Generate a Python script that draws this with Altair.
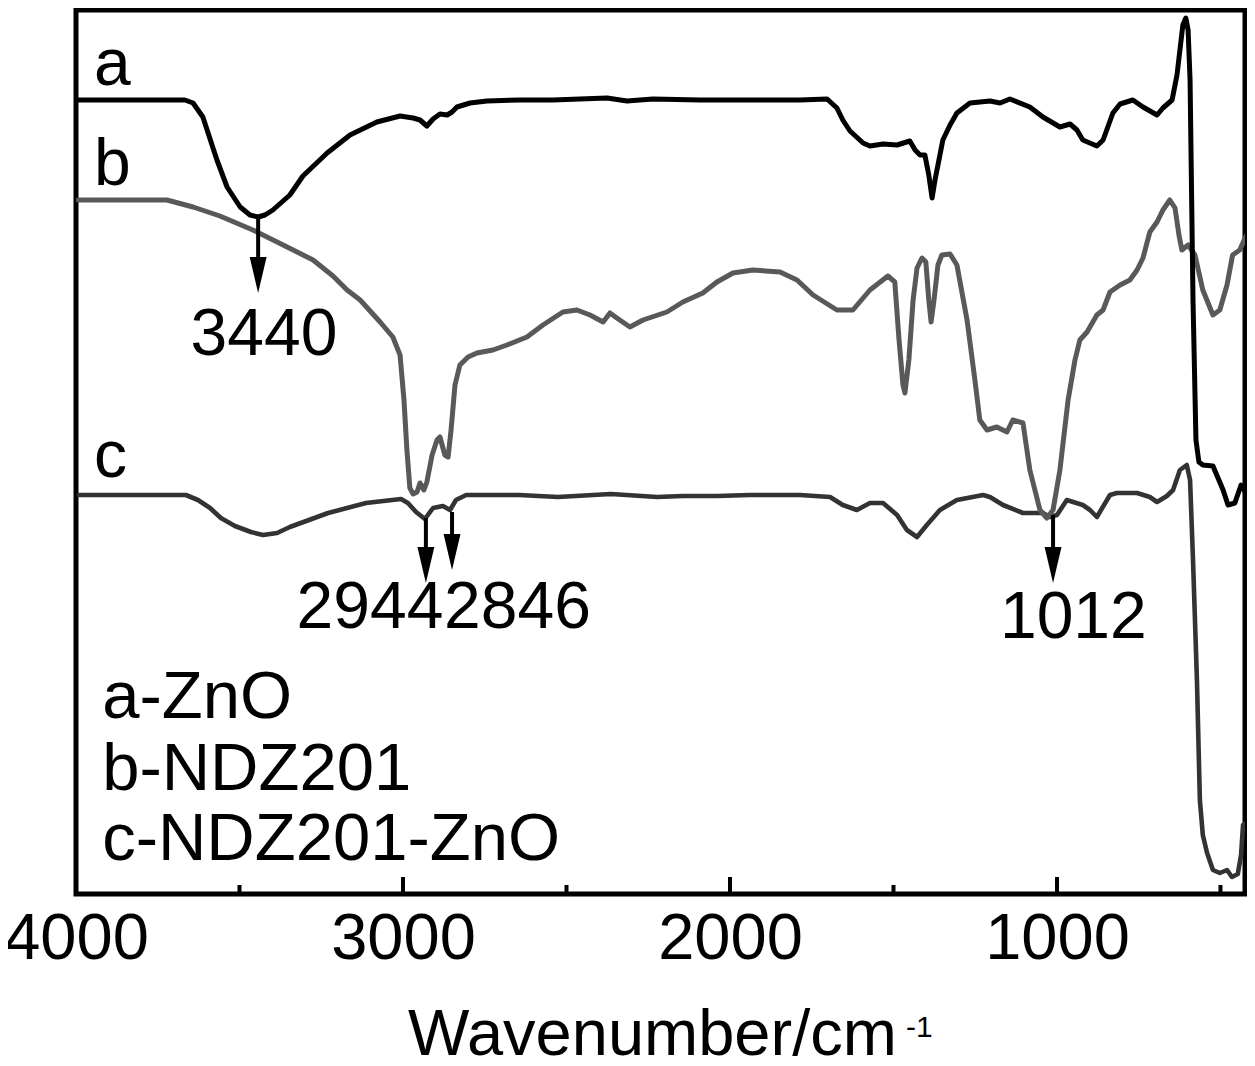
import altair as alt
import pandas as pd

FONT = "Liberation Sans, Arial, Helvetica, sans-serif"

# ---- FTIR spectra (wavenumber in cm-1, transmittance in arbitrary units) ----
wn_a = [3994, 3667, 3642, 3612, 3569, 3538, 3498, 3468, 3443, 3422, 3398, 3346, 3306, 3232, 3162,
        3080, 3009, 2969, 2948, 2927, 2908, 2887, 2865, 2850, 2835, 2795, 2743, 2642, 2541, 2459,
        2376, 2315, 2236, 2092, 1930, 1786, 1703, 1673, 1655, 1633, 1593, 1572, 1532, 1489, 1450,
        1434, 1419, 1404, 1392, 1382, 1373, 1361, 1349, 1327, 1306, 1266, 1205, 1174, 1144, 1083,
        1043, 991, 960, 939, 921, 878, 859, 829, 807, 768, 737, 694, 676, 648, 633,
        615, 606, 599, 593, 584, 575, 566, 554, 523, 492, 477, 456, 437, 428, 416]
t_a = [794, 794, 791, 777, 734, 707, 687, 679, 677, 679, 684, 699, 718, 741, 759,
       772, 778, 776, 774, 768, 775, 780, 779, 782, 787, 791, 793, 794, 794, 795,
       796, 793, 795, 794, 794, 794, 795, 786, 774, 763, 751, 748, 750, 749, 753,
       744, 739, 739, 719, 696, 714, 734, 754, 769, 781, 791, 793, 791, 795, 787,
       777, 767, 770, 764, 754, 748, 754, 781, 790, 794, 787, 779, 786, 794, 819,
       869, 876, 864, 814, 594, 454, 432, 429, 428, 404, 389, 391, 409, 404, 397]

wn_b = [3994, 3722, 3642, 3560, 3459, 3336, 3275, 3214, 3171, 3131, 3070, 3031, 3009, 2997, 2988,
        2979, 2969, 2957, 2948, 2936, 2927, 2911, 2896, 2887, 2872, 2862, 2853, 2841, 2826, 2801,
        2774, 2725, 2682, 2621, 2572, 2511, 2468, 2428, 2388, 2367, 2346, 2306, 2266, 2193, 2144,
        2083, 2040, 1991, 1930, 1847, 1795, 1746, 1673, 1624, 1572, 1517, 1496, 1483, 1471, 1465,
        1453, 1440, 1428, 1413, 1401, 1392, 1385, 1376, 1364, 1352, 1327, 1306, 1275, 1251, 1236,
        1214, 1184, 1153, 1135, 1104, 1083, 1052, 1031, 1012, 991, 966, 945, 930, 908, 878,
        859, 838, 807, 777, 755, 737, 716, 694, 676, 655, 639, 627, 618, 599, 578,
        554, 523, 502, 480, 463, 441, 425, 410]
t_b = [694, 694, 687, 678, 664, 644, 634, 618, 604, 594, 572, 557, 539, 494, 444,
       406, 400, 402, 411, 404, 412, 439, 454, 457, 439, 437, 464, 509, 529, 537,
       541, 544, 549, 557, 569, 582, 584, 579, 572, 581, 576, 567, 574, 582, 592,
       601, 612, 621, 624, 622, 614, 599, 584, 584, 604, 618, 612, 554, 509, 501,
       534, 594, 626, 636, 632, 594, 572, 594, 629, 639, 640, 629, 574, 514, 474,
       464, 467, 462, 474, 471, 424, 384, 376, 384, 424, 494, 534, 554, 562, 579,
       584, 602, 609, 614, 624, 636, 662, 672, 684, 694, 686, 659, 644, 649, 639,
       604, 579, 584, 609, 639, 644, 656, 664]

wn_c = [3991, 3664, 3627, 3590, 3557, 3514, 3465, 3428, 3385, 3346, 3229, 3113, 3006, 2985, 2960,
        2933, 2908, 2878, 2856, 2838, 2807, 2645, 2526, 2364, 2223, 2144, 2040, 1939, 1786, 1694,
        1655, 1612, 1572, 1532, 1489, 1459, 1428, 1398, 1358, 1306, 1226, 1205, 1165, 1104, 1043,
        1022, 1000, 970, 921, 899, 878, 838, 817, 755, 716, 694, 664, 645, 624, 603,
        593, 584, 572, 563, 554, 541, 523, 502, 480, 465, 447, 437, 431, 416]
t_c = [399, 399, 394, 386, 376, 368, 362, 359, 361, 367, 381, 391, 395, 391, 382,
       375, 386, 388, 384, 394, 399, 399, 397, 400, 397, 398, 398, 399, 399, 397,
       389, 384, 391, 391, 379, 364, 357, 369, 384, 394, 399, 397, 389, 381, 381,
       377, 379, 394, 389, 384, 377, 399, 401, 401, 397, 392, 398, 404, 424, 429,
       414, 334, 214, 94, 59, 41, 24, 21, 24, 17, 20, 39, 69, 72]

series_colors = ["#000000", "#595959", "#333333"]

# ---- annotations ----
arrow_wn = [3443, 2930, 2850, 1012]
arrow_from = [677, 376, 382, 379]
arrow_to = [601, 311, 324, 311]

peak_labels = ["3440", "2944", "2846", "1012"]
peak_label_wn = [3425, 3101, 2650, 950]
peak_label_t = [539, 266, 266, 256]

curve_labels = ["a", "b", "c"]
curve_label_wn = [3945, 3945, 3945]
curve_label_t = [809, 709, 417]

legend_lines = ["a-ZnO", "b-NDZ201", "c-NDZ201-ZnO"]
legend_wn = [3920, 3920, 3920]
legend_t = [176, 104, 34]

tick_labels = [4000, 3000, 2000, 1000]
major_ticks = [3000, 2000, 1000]
minor_ticks = [3500, 2500, 1500, 500]

axis_title = "Wavenumber/cm"
axis_title_sup = "-1"

# ---- tables ----
def spectrum(wn, t, name):
    return pd.DataFrame({"wn": wn, "t": t, "series": name, "idx": list(range(len(wn)))})

df_a = spectrum(wn_a, t_a, "a")
df_b = spectrum(wn_b, t_b, "b")
df_c = spectrum(wn_c, t_c, "c")
df_arrow = pd.DataFrame({"wn": arrow_wn, "t0": arrow_from, "t1": arrow_to})
df_peak = pd.DataFrame({"wn": peak_label_wn, "t": peak_label_t, "label": peak_labels})
df_curve = pd.DataFrame({"wn": curve_label_wn, "t": curve_label_t, "label": curve_labels})
df_leg = pd.DataFrame({"wn": legend_wn, "t": legend_t, "label": legend_lines})
df_major = pd.DataFrame({"wn": major_ticks})
df_minor = pd.DataFrame({"wn": minor_ticks})

W, H = 1169, 884

x_enc = alt.X(
    "wn:Q",
    scale=alt.Scale(domain=[425, 4000], reverse=True, nice=False, zero=False),
    axis=alt.Axis(
        values=tick_labels, format="d", labelFontSize=65, labelFont=FONT,
        labelColor="black", labelFlush=False, labelOverlap=False,
        labelBaseline="alphabetic", labelPadding=64, ticks=False, tickSize=0,
        domain=False, grid=False, title=None,
    ),
)
y_enc = alt.Y("t:Q", scale=alt.Scale(domain=[0, H], nice=False, zero=False), axis=None)


def line_layer(df, color, width):
    return alt.Chart(df).mark_line(
        color=color, strokeWidth=width, strokeJoin="round", strokeCap="round", clip=True
    ).encode(x=x_enc, y=y_enc, order="idx:Q")


line_c = line_layer(df_c, series_colors[2], 4.6)
line_b = line_layer(df_b, series_colors[1], 5)
line_a = line_layer(df_a, series_colors[0], 5)

ticks_major = alt.Chart(df_major).mark_rule(color="black", strokeWidth=4).encode(
    x="wn:Q", y=alt.value(H - 17), y2=alt.value(H)
)
ticks_minor = alt.Chart(df_minor).mark_rule(color="black", strokeWidth=4).encode(
    x="wn:Q", y=alt.value(H - 9), y2=alt.value(H)
)

shaft = alt.Chart(df_arrow).transform_calculate(t1s="datum.t1 + 20").mark_rule(
    color="black", strokeWidth=4
).encode(x="wn:Q", y="t0:Q", y2="t1s:Q")

head = alt.Chart(df_arrow).mark_point(
    shape="M-0.47,-1L0.47,-1L0,1Z", size=1296, filled=True, color="black",
    opacity=1, yOffset=-18,
).encode(x="wn:Q", y="t1:Q")

peak_text = alt.Chart(df_peak).mark_text(
    font=FONT, fontSize=66, color="black", align="center", baseline="alphabetic"
).encode(x="wn:Q", y="t:Q", text="label:N")

curve_text = alt.Chart(df_curve).mark_text(
    font=FONT, fontSize=66, color="black", align="left", baseline="alphabetic"
).encode(x="wn:Q", y="t:Q", text="label:N")

legend_text = alt.Chart(df_leg).mark_text(
    font=FONT, fontSize=67, color="black", align="left", baseline="alphabetic"
).encode(x="wn:Q", y="t:Q", text="label:N")

title_main = alt.Chart(pd.DataFrame({"label": [axis_title]})).mark_text(
    font=FONT, fontSize=65, color="black", align="left", baseline="alphabetic"
).encode(x=alt.value(332), y=alt.value(1045), text="label:N")

title_sup = alt.Chart(pd.DataFrame({"label": [axis_title_sup]})).mark_text(
    font=FONT, fontSize=30, color="black", align="left", baseline="alphabetic"
).encode(x=alt.value(830), y=alt.value(1027), text="label:N")

chart = alt.layer(
    line_c, line_b, line_a,
    ticks_major, ticks_minor, shaft, head,
    peak_text, curve_text, legend_text, title_main, title_sup,
).properties(
    width=W, height=H,
    padding={"left": 68, "top": 2, "right": 2, "bottom": 164},
    autosize=alt.AutoSizeParams(type="none"),
).configure_view(stroke="black", strokeWidth=5)

chart.save("out.html", embed_options={"renderer": "svg", "actions": False})
